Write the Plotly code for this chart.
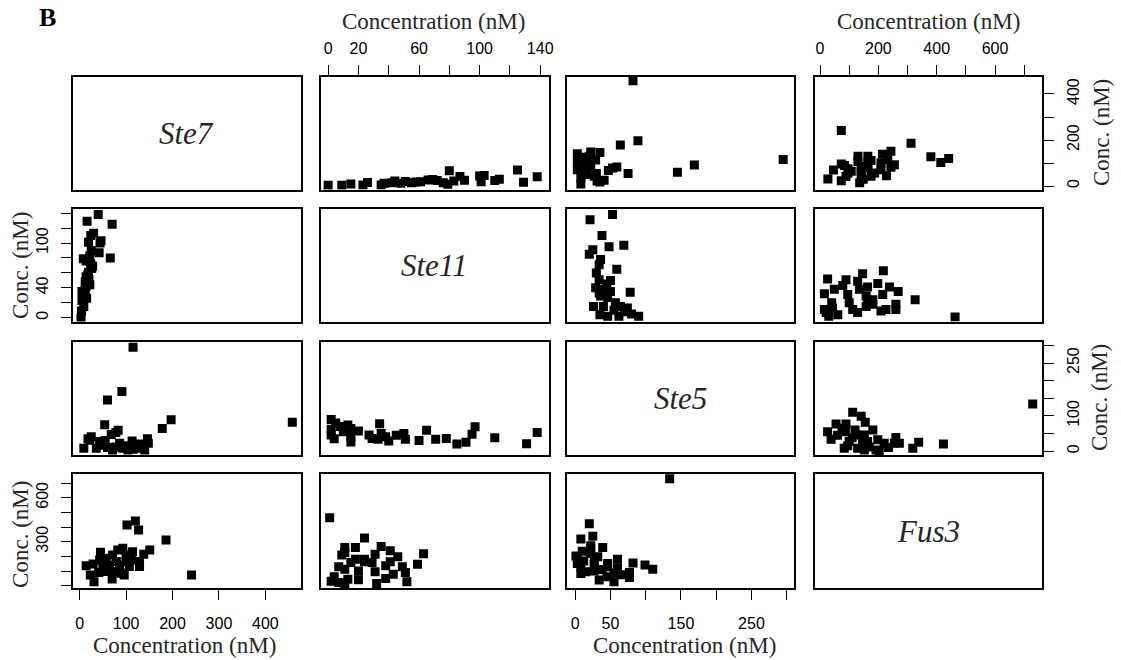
import plotly.graph_objects as go

W, H = 1121, 660

variables = ["Ste7", "Ste11", "Ste5", "Fus3"]

# ---- data: one pair of arrays per variable pair (NA values drop out per pair) ----
# Ste7 vs Ste11
ste7_a = [3, 4, 9, 5, 15, 5, 12, 14, 22, 12, 20, 14, 18, 19, 26, 28, 24, 14, 8, 66, 22, 42, 25, 44, 19, 46, 24, 30, 70, 16, 40]
ste11_a = [0, 9, 15, 23, 26, 35, 37, 42, 44, 48, 51, 55, 58, 61, 66, 69, 72, 76, 79, 80, 83, 87, 90, 100, 101, 103, 110, 113, 125, 129, 138]
# Ste7 vs Ste5
ste7_b = [458, 178, 197, 115, 91, 60, 54, 83, 78, 68, 25, 22, 18, 9, 36, 43, 50, 71, 86, 93, 104, 113, 121, 140, 146, 148, 60, 78, 100, 55, 125, 115, 130]
ste5_b = [82, 64, 89, 295, 169, 145, 75, 59, 53, 47, 41, 31, 35, 8, 8, 27, 17, 3, 22, 8, 3, 29, 17, 3, 35, 22, 10, 12, 15, 30, 8, 5, 20]
# Ste7 vs Fus3
ste7_c = [120, 102, 127, 186, 241, 14, 29, 45, 151, 138, 129, 129, 114, 93, 82, 96, 70, 31, 23, 41, 57, 57, 71, 86, 64, 79, 100, 107, 50, 89, 75, 100, 64, 111, 43]
fus3_c = [441, 414, 380, 312, 73, 136, 148, 228, 243, 214, 164, 130, 232, 255, 243, 73, 46, 27, 73, 89, 96, 187, 209, 141, 141, 164, 164, 130, 141, 84, 96, 209, 107, 175, 175]
# Ste11 vs Ste5
ste11_f = [138, 131, 110, 97, 95, 91, 78, 71, 65, 51, 34, 40, 38, 35, 29, 27, 15, 20, 15, 13, 4, 2, 2, 2, 33, 15, 10, 45, 60, 50, 85, 5, 8]
ste5_f = [53, 21, 38, 69, 48, 25, 36, 34, 59, 34, 78, 29, 41, 50, 36, 46, 26, 57, 64, 74, 35, 46, 62, 90, 34, 40, 55, 45, 30, 50, 20, 80, 70]
# Ste11 vs Fus3
ste11_d = [52, 32, 38, 51, 43, 31, 49, 59, 63, 46, 38, 41, 29, 24, 31, 41, 35, 18, 24, 1, 11, 7, 13, 4, 11, 7, 15, 18, 9, 11, 11, 24, 20, 20, 2]
fus3_d = [26, 15, 49, 89, 78, 95, 129, 146, 217, 198, 135, 163, 158, 181, 215, 238, 268, 260, 326, 463, 15, 21, 43, 61, 112, 129, 158, 181, 209, 226, 260, 163, 40, 100, 30]
# Ste5 vs Fus3
ste5_e = [134, 110, 99, 82, 77, 77, 55, 34, 55, 60, 46, 46, 32, 22, 39, 22, 22, 8, 25, 20, 8, 27, 8, 27, 3, 12, 3, 1, 38, 27, 45, 10, 15, 60, 65]
fus3_e = [729, 112, 141, 155, 55, 89, 26, 38, 87, 181, 129, 152, 198, 220, 260, 255, 272, 318, 338, 423, 83, 100, 129, 146, 152, 169, 192, 203, 110, 163, 60, 235, 95, 120, 75]

pairs = {
    (0, 1): (ste7_a, ste11_a),
    (0, 2): (ste7_b, ste5_b),
    (0, 3): (ste7_c, fus3_c),
    (1, 2): (ste11_f, ste5_f),
    (1, 3): (ste11_d, fus3_d),
    (2, 3): (ste5_e, fus3_e),
}

# axis tick values / labels per variable
x_tickvals = [[0, 100, 200, 300, 400], list(range(0, 141, 20)), list(range(0, 301, 50)), list(range(0, 701, 100))]
x_ticktext = [["0", "100", "200", "300", "400"],
              ["0", "20", "", "60", "", "100", "", "140"],
              ["0", "50", "", "150", "", "250", ""],
              ["0", "", "200", "", "400", "", "600", ""]]
y_ticktext = [["0", "", "200", "", "400"],
              ["0", "", "40", "", "", "100", "", ""],
              ["0", "", "100", "", "", "250", ""],
              ["", "", "", "300", "", "", "600", ""]]

# ---- layout geometry (pixels) ----
col_px = [(73, 302), (322, 551), (570, 798), (819, 1047)]
row_px = [(76.5, 189.5), (209, 321.5), (341.5, 455), (474, 588)]
ranges = [(-15, 476), (-5, 145.5), (-11, 311), (-16, 762)]

SANS = "Liberation Sans, Arial, sans-serif"
SERIF = "Liberation Serif, Times New Roman, serif"
TXT = "#262626"

fig = go.Figure()
layout = dict(width=W, height=H, margin=dict(l=0, r=0, t=0, b=0),
              paper_bgcolor="white", plot_bgcolor="white", showlegend=False)
annotations = []

for r in range(4):
    for c in range(4):
        k = r * 4 + c + 1
        xa = "xaxis" if k == 1 else f"xaxis{k}"
        ya = "yaxis" if k == 1 else f"yaxis{k}"
        xref = "x" if k == 1 else f"x{k}"
        yref = "y" if k == 1 else f"y{k}"
        x0, x1 = col_px[c]
        y0, y1 = row_px[r]
        xdict = dict(domain=[x0 / W, x1 / W], anchor=yref, showgrid=False, zeroline=False,
                     showline=True, mirror=True, linecolor="black", linewidth=1.8,
                     range=list(ranges[c]), ticks="", showticklabels=False, fixedrange=True)
        ydict = dict(domain=[1 - y1 / H, 1 - y0 / H], anchor=xref, showgrid=False, zeroline=False,
                     showline=True, mirror=True, linecolor="black", linewidth=1.8,
                     range=list(ranges[r]), ticks="", showticklabels=False, fixedrange=True)
        tickstyle = dict(ticks="outside", ticklen=10, tickwidth=1.3, tickcolor="black",
                         showticklabels=True, tickfont=dict(family=SANS, size=16, color="black"))
        # x axes
        if r == 0 and c in (1, 3):
            xdict.update(tickstyle, side="top", tickvals=x_tickvals[c], ticktext=x_ticktext[c],
                         ticklabelstandoff=4)
        if r == 3 and c in (0, 2):
            xdict.update(tickstyle, side="bottom", tickvals=x_tickvals[c], ticktext=x_ticktext[c],
                         ticklabelstandoff=10)
        # y axes
        if c == 0 and r in (1, 3):
            ydict.update(tickstyle, side="left", tickvals=x_tickvals[r], ticktext=y_ticktext[r],
                         tickangle=-90, ticklabelstandoff=6)
        if c == 3 and r in (0, 2):
            ydict.update(tickstyle, side="right", tickvals=x_tickvals[r], ticktext=y_ticktext[r],
                         tickangle=-90, ticklabelstandoff=6)
        layout[xa] = xdict
        layout[ya] = ydict

        if r == c:
            annotations.append(dict(text=f"<i>{variables[r]}</i>", xref="paper", yref="paper",
                                    x=(x0 + x1) / 2 / W, y=1 - (y0 + y1) / 2 / H,
                                    xanchor="center", yanchor="middle",
                                    showarrow=False, font=dict(family=SERIF, size=31, color=TXT)))
            # invisible trace so the (empty) diagonal panel is drawn with its frame
            fig.add_trace(go.Scatter(x=[ranges[c][0]], y=[ranges[r][0]], mode="markers",
                                     xaxis=xref, yaxis=yref, marker=dict(opacity=0),
                                     hoverinfo="skip"))
        else:
            if r < c:
                yv, xv = pairs[(r, c)]
            else:
                xv, yv = pairs[(c, r)]
            fig.add_trace(go.Scatter(x=xv, y=yv, mode="markers", xaxis=xref, yaxis=yref,
                                     marker=dict(symbol="square", size=9, color="black",
                                                 line=dict(width=0)),
                                     hoverinfo="skip"))

# axis titles
def ann(text, px, py, angle=0, size=23):
    annotations.append(dict(text=text, xref="paper", yref="paper", x=px / W, y=1 - py / H,
                            xanchor="center", yanchor="middle",
                            showarrow=False, textangle=angle,
                            font=dict(family=SERIF, size=size, color=TXT)))

ann("Concentration (nM)", 435, 22)
ann("Concentration (nM)", 933, 22)
ann("Concentration (nM)", 185, 645)
ann("Concentration (nM)", 688, 645)
ann("Conc. (nM)", 20, 265, -90)
ann("Conc. (nM)", 20, 534, -90)
ann("Conc. (nM)", 1106, 133, -90)
ann("Conc. (nM)", 1104, 398, -90)
annotations.append(dict(text="<b>B</b>", xref="paper", yref="paper", x=48 / W, y=1 - 17 / H,
                        xanchor="center", yanchor="middle",
                        showarrow=False, font=dict(family=SERIF, size=26, color="black")))

layout["annotations"] = annotations
fig.update_layout(**layout)
fig.write_html("out.html")
